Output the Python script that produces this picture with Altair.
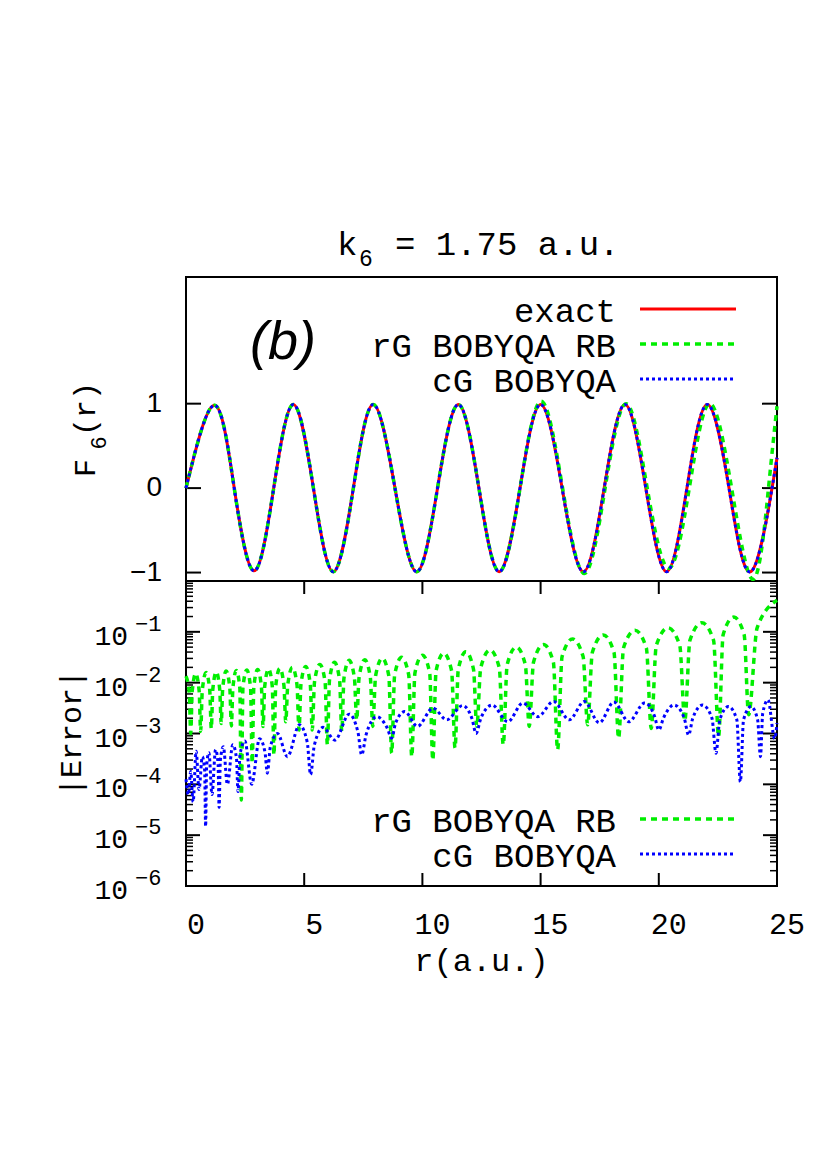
import altair as alt
import pandas as pd

# ---------------- data ----------------
title_k = "k"
title_sub = "6"
title_rest = "= 1.75 a.u."
panel_tag = "(b)"
ylabel_top = ["F", "6", "(r)"]
ylabel_bot = "|Error|"
xlabel = "r(a.u.)"
legend_top = ["exact", "rG BOBYQA RB", "cG BOBYQA"]
legend_bot = ["rG BOBYQA RB", "cG BOBYQA"]

x_tick_labels = [0, 5, 10, 15, 20, 25]
x_inner_ticks = [5, 10, 15, 20]
top_ticks = [1, 0, -1]
top_tick_labels = ["1", "0", "\u22121"]
log_major = [1e-6, 1e-5, 1e-4, 1e-3, 1e-2, 1e-1]
log_exp_labels = ["\u22126", "\u22125", "\u22124", "\u22123", "\u22122", "\u22121"]
log_minor = [m * d for d in log_major for m in (2, 3, 4, 5, 6, 7, 8, 9)]

# F6(r): zeros and extrema
r_exact = [0.0, 1.20, 2.04, 2.88, 3.71, 4.54, 5.39, 6.23, 7.08, 7.92, 8.84, 9.76,
           10.64, 11.52, 12.39, 13.25, 14.13, 15.00, 15.91, 16.81, 17.69, 18.57,
           19.45, 20.33, 21.19, 22.05, 22.97, 23.89, 24.79, 25.0]
f_exact = [0.0, 0.98, 0.0, -0.98, 0.0, 0.99, 0.0, -0.99, 0.0, 0.99, 0.0, -0.99,
           0.0, 0.99, 0.0, -0.99, 0.0, 0.99, 0.0, -0.99, 0.0, 0.99,
           0.0, -0.99, 0.0, 0.99, 0.0, -0.99, 0.0, 0.36]
r_cg = [0.0, 1.20, 2.04, 2.88, 3.71, 4.54, 5.39, 6.23, 7.08, 7.92, 8.84, 9.76,
        10.64, 11.52, 12.39, 13.25, 14.13, 15.00, 15.91, 16.81, 17.69, 18.57,
        19.45, 20.33, 21.19, 22.05, 22.97, 23.89, 24.79, 25.0]
f_cg = [0.0, 0.98, 0.0, -0.98, 0.0, 0.99, 0.0, -0.99, 0.0, 0.99, 0.0, -0.99,
        0.0, 0.99, 0.0, -0.99, 0.0, 0.99, 0.0, -0.99, 0.0, 0.99,
        0.0, -0.99, 0.0, 0.99, 0.0, -0.99, 0.0, 0.36]
r_rg = [0.0, 1.20, 2.04, 2.88, 3.71, 4.54, 5.39, 6.23, 7.08, 7.92, 8.84, 9.76,
        10.64, 11.52, 12.39, 13.25, 14.13, 15.02, 15.93, 16.85, 17.73, 18.62,
        19.51, 20.42, 21.29, 22.15, 23.08, 24.00, 24.64, 25.0]
f_rg = [0.0, 0.98, 0.0, -0.98, 0.0, 0.99, 0.0, -0.99, 0.0, 0.99, 0.0, -0.99,
        0.0, 0.99, 0.0, -0.99, 0.0, 1.03, 0.0, -1.01, 0.0, 1.00,
        0.0, -0.95, 0.0, 1.00, 0.0, -1.08, 0.0, 0.97]

# |Error| of rG BOBYQA RB (tops, shoulders and dips)
r_err_rg = [0.0, 0.14, 0.20, 0.263, 0.41, 0.557, 0.62, 0.689, 0.85, 1.004, 1.07, 1.133,
            1.28, 1.427, 1.49, 1.553, 1.70, 1.854, 1.92, 1.983, 2.13, 2.277, 2.34, 2.409,
            2.57, 2.731, 2.80, 2.869, 3.03, 3.191, 3.26, 3.329, 3.49, 3.651, 3.72, 3.795,
            3.97, 4.145, 4.22, 4.304, 4.50, 4.696, 4.78, 4.864, 5.06, 5.256, 5.34, 5.436,
            5.66, 5.884, 5.98, 6.07, 6.28, 6.497, 6.59, 6.683, 6.90, 7.124, 7.22, 7.322,
            7.56, 7.798, 7.90, 8.02, 8.30, 8.58, 8.70, 8.826, 9.12, 9.421, 9.55, 9.685,
            10.00, 10.308, 10.44, 10.578, 10.90, 11.236, 11.38, 11.518, 11.84, 12.162,
            12.30, 12.468, 12.86, 13.252, 13.42, 13.585, 13.97, 14.355, 14.52, 14.70,
            15.12, 15.54, 15.72, 15.909, 16.35, 16.798, 16.99, 17.188, 17.65, 18.105,
            18.30, 18.507, 18.99, 19.473, 19.68, 19.893, 20.39, 20.887, 21.10, 21.316,
            21.82, 22.317, 22.53, 22.722, 23.17, 23.611, 23.80, 24.16, 25.0]
err_rg = [0.0135, 0.0061, 1.0e-3, 0.0068, 0.0151, 0.0068, 1.1e-3, 0.0071, 0.0158, 0.0071,
          1.26e-3, 0.0073, 0.0162, 0.0073, 1.58e-3, 0.0077, 0.0170, 0.0077, 1.41e-3, 0.0078,
          0.0174, 0.0078, 4.9e-5, 0.0080, 0.0178, 0.0080, 2.63e-4, 0.0082, 0.0182, 0.0082,
          1.38e-3, 0.0084, 0.0186, 0.0084, 3.8e-4, 0.0086, 0.0191, 0.0086, 1.7e-3, 0.0090,
          0.0200, 0.0090, 1.17e-3, 0.0094, 0.0209, 0.0094, 1.17e-3, 0.0103, 0.0229, 0.0103,
          6.0e-4, 0.0113, 0.0251, 0.0113, 1.1e-3, 0.0124, 0.0275, 0.0124, 1.86e-3, 0.0127,
          0.0282, 0.0127, 1.38e-3, 0.0136, 0.0302, 0.0136, 4.1e-4, 0.0142, 0.0316, 0.0142,
          3.5e-4, 0.0156, 0.0347, 0.0156, 3.0e-4, 0.0171, 0.0380, 0.0171, 5.2e-4, 0.0183,
          0.0407, 0.0183, 1.38e-3, 0.0197, 0.0437, 0.0197, 6.0e-4, 0.0225, 0.0501, 0.0225,
          1.38e-3, 0.0253, 0.0562, 0.0253, 4.8e-4, 0.0326, 0.0724, 0.0326, 1.48e-3, 0.0392,
          0.0871, 0.0392, 8.1e-4, 0.0482, 0.107, 0.0482, 1.26e-3, 0.054, 0.120, 0.054,
          1.78e-3, 0.068, 0.151, 0.068, 8.7e-4, 0.088, 0.195, 0.088, 2.34e-3, 0.12, 0.417]

# |Error| of cG BOBYQA
r_err_cg = [0.0, 0.10, 0.20, 0.30, 0.43, 0.55, 0.69, 0.788, 0.83, 0.872, 0.97, 1.10,
            1.25, 1.355, 1.40, 1.454, 1.58, 1.75, 1.98, 2.134, 2.20, 2.287, 2.49, 2.78,
            3.11, 3.341, 3.44, 3.569, 3.87, 4.29, 4.80, 5.129, 5.27, 5.429, 5.80, 6.30,
            6.90, 7.271, 7.43, 7.622, 8.07, 8.511, 8.70, 8.865, 9.25, 9.79, 10.45, 11.03,
            11.70, 12.099, 12.27, 12.474, 12.95, 13.61, 14.25, 14.88, 15.55, 16.21, 16.85,
            17.48, 18.10, 18.73, 19.40, 19.82, 20.00, 20.195, 20.65, 21.077, 21.26, 21.437,
            21.85, 22.249, 22.42, 22.579, 22.95, 23.30, 23.45, 23.585, 23.90, 24.18, 24.30,
            24.396, 24.62, 24.90, 25.0]
err_cg = [1.26e-4, 6.3e-5, 1.78e-4, 4.5e-5, 4.5e-4, 7.9e-5, 3.5e-4, 1.9e-4, 1.48e-5, 2.3e-4,
          4.2e-4, 6.3e-5, 4.8e-4, 2.6e-4, 3.5e-5, 3.0e-4, 5.5e-4, 1.0e-4, 6.0e-4, 3.3e-4,
          7.2e-5, 3.9e-4, 7.1e-4, 1.0e-4, 7.9e-4, 4.3e-4, 1.66e-4, 5.5e-4, 1.0e-3, 3.5e-4,
          1.48e-3, 6.7e-4, 1.55e-4, 5.9e-4, 1.32e-3, 7.4e-4, 2.4e-3, 1.08e-3, 3.8e-4, 9.6e-4,
          2.14e-3, 1.28e-3, 8.1e-4, 1.6e-3, 2.7e-3, 1.38e-3, 3.16e-3, 1.86e-3, 3.55e-3,
          1.95e-3, 1.0e-3, 2.0e-3, 3.63e-3, 1.7e-3, 3.98e-3, 2.14e-3, 4.27e-3, 1.86e-3,
          4.27e-3, 1.62e-3, 4.17e-3, 1.7e-3, 3.98e-3, 2.19e-3, 1.17e-3, 2.0e-3, 3.63e-3,
          2.0e-3, 9.3e-4, 2.0e-3, 3.63e-3, 2.0e-3, 4.1e-4, 1.86e-3, 3.39e-3, 1.86e-3,
          1.12e-4, 1.86e-3, 3.39e-3, 1.86e-3, 3.5e-4, 2.5e-3, 4.57e-3, 7.9e-4, 1.6e-3]

# ---------------- layout / style ----------------
W, H_TOP, H_BOT = 591, 304, 305
H = H_TOP + H_BOT
MONO = "Liberation Mono, DejaVu Sans Mono, monospace"
SANS = "Liberation Sans, Arial, sans-serif"
RED, GREEN, BLUE = "#ff0000", "#00ee00", "#0000ff"

xs = alt.Scale(domain=[0, 25], nice=False, zero=False)
ys_top = alt.Scale(domain=[-1.1, 2.5], range=[H_TOP, 0], nice=False, zero=False)
ys_bot = alt.Scale(type="log", domain=[1e-6, 1], range=[H, H_TOP], nice=False)


def X(field="r"):
    return alt.X(f"{field}:Q", scale=xs, axis=None)


def line(r, v, scale, color, width, dash=None, interp="natural"):
    kw = dict(color=color, strokeWidth=width, interpolate=interp)
    if dash:
        kw["strokeDash"] = dash
    df = pd.DataFrame({"r": r, "v": v})
    return alt.Chart(df).mark_line(**kw).encode(
        x=X(), y=alt.Y("v:Q", scale=scale, axis=None), order="r:Q")


def yticks(vals, scale, x0, x1, width=2):
    df = pd.DataFrame({"v": vals})
    return alt.Chart(df).mark_rule(color="black", strokeWidth=width).encode(
        y=alt.Y("v:Q", scale=scale, axis=None), x=alt.value(x0), x2=alt.value(x1))


def xticks(vals, y0, y1):
    df = pd.DataFrame({"r": vals})
    return alt.Chart(df).mark_rule(color="black", strokeWidth=2).encode(
        x=X(), y=alt.value(y0), y2=alt.value(y1))


def text(t, x, y, size, font=MONO, align="left", baseline="alphabetic", angle=0, style="normal"):
    df = pd.DataFrame({"t": [t]})
    kw = dict(font=font, fontSize=size, align=align, baseline=baseline,
              fontStyle=style, color="black")
    if angle:
        kw["angle"] = angle
    return alt.Chart(df).mark_text(**kw).encode(
        text="t:N", x=alt.value(x), y=alt.value(y))


def legend_entry(label, ypix, color, width, dash=None):
    t = text(label, 430, ypix + 3, 34, align="right", baseline="middle")
    kw = dict(color=color, strokeWidth=width)
    if dash:
        kw["strokeDash"] = dash
    ln = alt.Chart(pd.DataFrame({"t": [label]})).mark_rule(**kw).encode(
        x=alt.value(454), x2=alt.value(550), y=alt.value(ypix))
    return [t, ln]


layers = []

# panel divider
layers.append(alt.Chart(pd.DataFrame({"t": ["div"]})).mark_rule(
    color="black", strokeWidth=2).encode(x=alt.value(0), x2=alt.value(W), y=alt.value(H_TOP)))

# ticks (inward, mirrored)
layers += [
    yticks(top_ticks, ys_top, 0, 15), yticks(top_ticks, ys_top, W - 15, W),
    yticks(log_major, ys_bot, 0, 14), yticks(log_major, ys_bot, W - 14, W),
    yticks(log_minor, ys_bot, 0, 7, 1.5), yticks(log_minor, ys_bot, W - 7, W, 1.5),
    xticks(x_inner_ticks, H - 13, H), xticks(x_inner_ticks, H_TOP, H_TOP + 13),
]

# top panel curves
layers += [
    line(r_exact, f_exact, ys_top, RED, 3),
    line(r_rg, f_rg, ys_top, GREEN, 3.5, [6, 5]),
    line(r_cg, f_cg, ys_top, BLUE, 3, [3, 3]),
]

# bottom panel curves
layers += [
    line(r_err_rg, err_rg, ys_bot, GREEN, 3.5, [6, 5], "monotone"),
    line(r_err_cg, err_cg, ys_bot, BLUE, 3, [3, 3], "monotone"),
]

# tick labels
layers.append(alt.Chart(pd.DataFrame({"v": top_ticks, "t": top_tick_labels})).mark_text(
    font=SANS, fontSize=28, align="right", baseline="middle").encode(
    y=alt.Y("v:Q", scale=ys_top, axis=None), x=alt.value(-24), text="t:N"))
log_df = pd.DataFrame({"v": log_major, "b": ["10"] * len(log_major), "e": log_exp_labels})
layers.append(alt.Chart(log_df).mark_text(
    font=MONO, fontSize=28, align="right", baseline="middle", dy=5).encode(
    y=alt.Y("v:Q", scale=ys_bot, axis=None), x=alt.value(-58), text="b:N"))
layers.append(alt.Chart(log_df).mark_text(
    font=MONO, fontSize=22, align="left", baseline="middle", dy=-8).encode(
    y=alt.Y("v:Q", scale=ys_bot, axis=None), x=alt.value(-51), text="e:N"))
layers.append(alt.Chart(pd.DataFrame({"r": x_tick_labels, "t": [str(v) for v in x_tick_labels]})).mark_text(
    font=MONO, fontSize=30, align="center", baseline="alphabetic", dx=10).encode(
    x=X(), y=alt.value(657), text="t:N"))

# axis titles
layers += [
    text(xlabel, 295.5, 694, 32, align="center"),
    text(ylabel_top[0], -100, 191, 30, align="center", baseline="middle", angle=270),
    text(ylabel_top[1], -87, 166, 22, align="center", baseline="middle", angle=270),
    text(ylabel_top[2], -100, 132, 30, align="center", baseline="middle", angle=270),
    text(ylabel_bot, -114, 456, 30, align="center", baseline="middle", angle=270),
]

# chart title
layers += [
    text(title_k, 151, -22, 34),
    text(title_sub, 173, -11, 23),
    text(title_rest, 209, -22, 34),
    text(panel_tag, 97, 82, 54, font=SANS, align="center", style="italic"),
]

# legends
layers += legend_entry(legend_top[0], 32, RED, 3)
layers += legend_entry(legend_top[1], 67, GREEN, 3.5, [6, 5])
layers += legend_entry(legend_top[2], 102, BLUE, 3, [3, 3])
layers += legend_entry(legend_bot[0], 542, GREEN, 3.5, [6, 5])
layers += legend_entry(legend_bot[1], 577, BLUE, 3, [3, 3])

chart = alt.layer(*layers).resolve_scale(y="independent").properties(
    width=W, height=H,
    autosize=alt.AutoSizeParams(type="none"),
    padding={"left": 178, "top": 269, "right": 45, "bottom": 200},
).configure_view(stroke="black", strokeWidth=2)

chart.save("out.html", embed_options={"renderer": "svg", "actions": False})
